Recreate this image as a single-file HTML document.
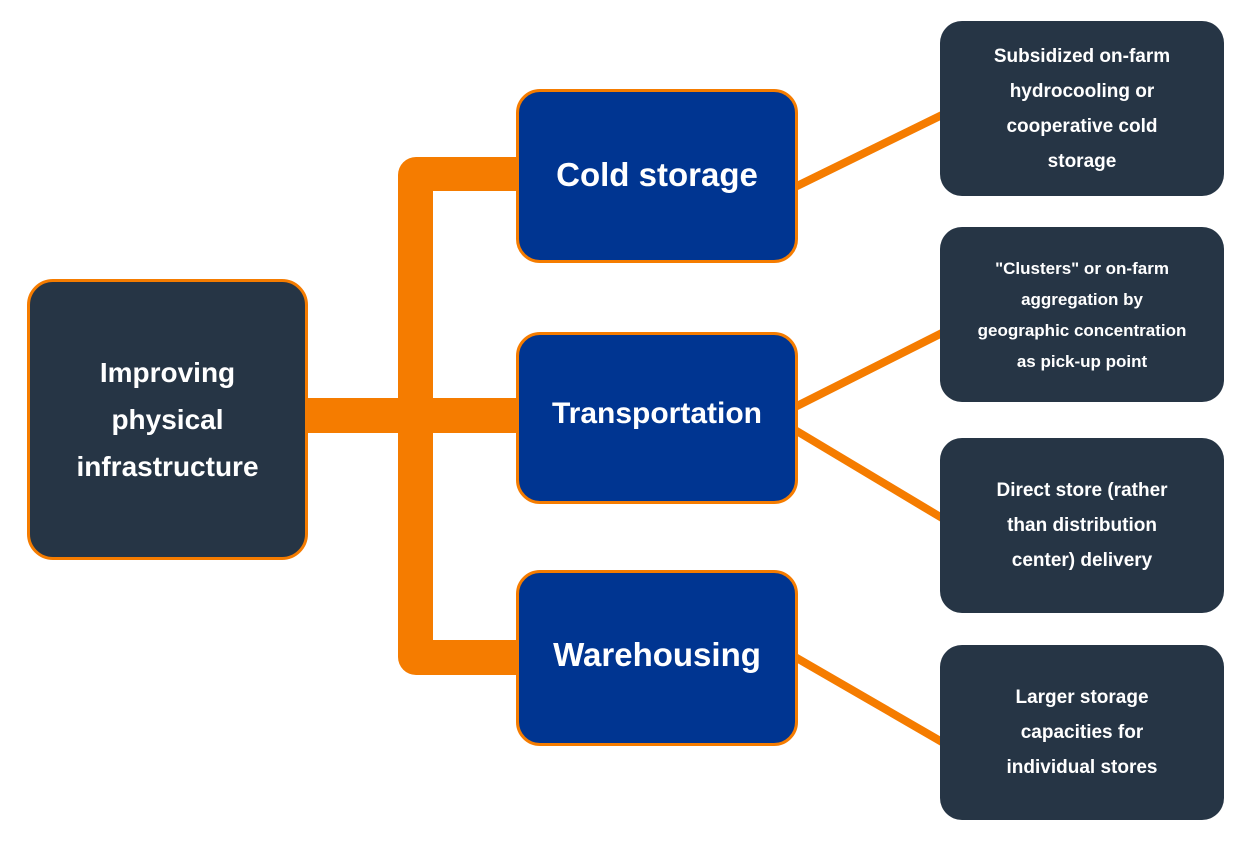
<!DOCTYPE html>
<html><head><style>
body{margin:0;width:1248px;height:847px;background:#fff;position:relative;overflow:hidden;font-family:"Liberation Sans",sans-serif;}
.b{position:absolute;box-sizing:border-box;display:flex;align-items:center;justify-content:center;text-align:center;color:#fff;font-weight:bold;}
.d{background:#263545;border-radius:22px;}
.o{border:3px solid #f57c00;}
.m{background:#003591;border:3px solid #f57c00;border-radius:24px;font-size:33px;}
.r{font-size:19px;line-height:35px;}
</style></head><body>
<svg width="1248" height="847" style="position:absolute;left:0;top:0">
<g fill="#f57c00">
<path d="M416 157 H520 V191 H433 V640 H520 V675 H416 A18 18 0 0 1 398 657 V175 A18 18 0 0 1 416 157Z"/>
<rect x="300" y="398" width="220" height="35"/>
</g>
<g stroke="#f57c00" stroke-width="8">
<line x1="795" y1="187" x2="942" y2="115"/>
<line x1="795" y1="407" x2="942" y2="333"/>
<line x1="795" y1="430" x2="942" y2="518"/>
<line x1="795" y1="657" x2="942" y2="742"/>
</g>
</svg>
<div class="b d o" style="left:27px;top:279px;width:281px;height:281px;font-size:28px;line-height:47px;border-radius:26px">Improving<br>physical<br>infrastructure</div>
<div class="b m" style="left:516px;top:89px;width:282px;height:174px;padding-bottom:2px">Cold storage</div>
<div class="b m" style="left:516px;top:332px;width:282px;height:172px;font-size:30px;padding-bottom:8px">Transportation</div>
<div class="b m" style="left:516px;top:570px;width:282px;height:176px;padding-bottom:6px">Warehousing</div>
<div class="b d r" style="left:940px;top:21px;width:284px;height:175px">Subsidized on-farm<br>hydrocooling or<br>cooperative cold<br>storage</div>
<div class="b d" style="left:940px;top:227px;width:284px;height:175px;font-size:17px;line-height:31px">"Clusters" or on-farm<br>aggregation by<br>geographic concentration<br>as pick-up point</div>
<div class="b d r" style="left:940px;top:438px;width:284px;height:175px">Direct store (rather<br>than distribution<br>center) delivery</div>
<div class="b d r" style="left:940px;top:645px;width:284px;height:175px">Larger storage<br>capacities for<br>individual stores</div>
</body></html>
